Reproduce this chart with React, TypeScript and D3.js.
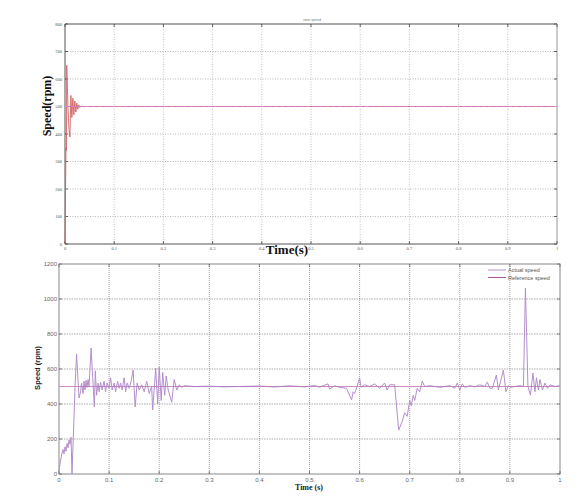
import React from "react";
import * as d3 from "d3";

// ---------- Data ----------
const topTicksX = [0, 0.1, 0.2, 0.3, 0.4, 0.5, 0.6, 0.7, 0.8, 0.9, 1];
const topTicksY = [0, 100, 200, 300, 400, 500, 600, 700, 800];
const topTime = [0, 0.002, 0.003, 0.0035, 0.006, 0.008, 0.01, 0.012, 0.014, 0.016, 0.018, 0.02, 0.022, 0.024, 0.026, 0.028, 0.03, 0.033, 0.036, 0.2, 0.5, 0.8, 1];
const topActual = [0, 350, 340, 650, 500, 420, 389, 540, 460, 530, 470, 520, 480, 512, 490, 506, 496, 502, 500, 500, 500, 500, 500];
const topRefTime = [0, 1];
const topRef = [500, 500];

const botTicksX = [0, 0.1, 0.2, 0.3, 0.4, 0.5, 0.6, 0.7, 0.8, 0.9, 1];
const botTicksY = [0, 200, 400, 600, 800, 1000, 1200];
const botTime = [
  0, 0.004, 0.006, 0.008, 0.01, 0.012, 0.014, 0.016, 0.018, 0.02, 0.022, 0.024, 0.026, 0.032, 0.035, 0.04,
  0.043, 0.045, 0.048, 0.05, 0.052, 0.054, 0.056, 0.058, 0.06, 0.064, 0.0705, 0.0725, 0.075, 0.078, 0.08, 0.083, 0.086, 0.09, 0.093,
  0.096, 0.1, 0.103, 0.106, 0.11, 0.113, 0.117, 0.12, 0.123, 0.126, 0.13, 0.133, 0.136, 0.14, 0.144, 0.148, 0.152,
  0.156, 0.16, 0.165, 0.17, 0.175, 0.18, 0.185, 0.187, 0.193, 0.197, 0.2, 0.204, 0.207, 0.211, 0.214, 0.218,
  0.225, 0.23, 0.235, 0.24, 0.245, 0.25, 0.27, 0.3, 0.33, 0.36, 0.4, 0.43, 0.46, 0.49, 0.51, 0.52, 0.537,
  0.54, 0.55, 0.56, 0.574, 0.584, 0.587, 0.59, 0.595, 0.6, 0.603, 0.61, 0.62, 0.63, 0.64, 0.65, 0.655, 0.66,
  0.67, 0.678, 0.685, 0.69, 0.695, 0.7, 0.703, 0.707, 0.71, 0.715, 0.72, 0.725, 0.73, 0.74, 0.76, 0.78,
  0.79, 0.795, 0.8, 0.805, 0.81, 0.82, 0.83, 0.84, 0.85, 0.855, 0.86, 0.865, 0.873, 0.877, 0.887, 0.892,
  0.897, 0.9, 0.91, 0.92, 0.927, 0.931, 0.936, 0.941, 0.946, 0.95, 0.953, 0.957, 0.96, 0.965, 0.97, 0.975,
  0.98, 0.99, 1
];
const botActual = [
  20, 90, 120, 140, 115, 155, 130, 175, 150, 195, 170, 210, 0, 500, 686, 434,
  470, 520, 460, 530, 480, 535, 495, 540, 500, 720, 383, 590, 450, 520, 470, 525, 480, 530, 470,
  520, 490, 550, 480, 520, 470, 530, 490, 520, 480, 550, 470, 520, 490, 530, 594, 383,
  520, 480, 510, 470, 530, 460, 500, 366, 605, 400, 610, 420, 580, 450, 560, 480,
  411, 540, 480, 510, 495, 505, 500, 502, 498, 500, 503, 497, 504, 498, 506, 496, 515,
  485, 505, 495, 490, 423, 470, 460, 500, 549, 495, 510, 500, 515, 490, 520, 480, 510,
  510, 251, 300, 350, 330, 420, 390, 450, 420, 490, 470, 530, 500, 505, 495, 505,
  490, 520, 480, 515, 495, 505, 498, 510, 500, 525, 490, 490, 566, 480, 594, 470,
  505, 495, 500, 505, 500, 1063, 500, 451, 577, 470, 550, 480, 540, 480, 520, 490,
  510, 500, 505
];
const botRefTime = [0, 1];
const botRef = [500, 500];
const legendLabels = ["Actual speed", "Reference speed"];

export default function App() {
  // ---------- Top chart ----------
  const tx = d3.scaleLinear().domain([0, 1]).range([65, 557]);
  const ty = d3.scaleLinear().domain([0, 800]).range([244, 24]);
  const tLine = d3.line<number>().x((_, i) => tx(topTime[i])).y((d) => ty(d));
  const tRefLine = d3.line<number>().x((_, i) => tx(topRefTime[i])).y((d) => ty(d));

  // ---------- Bottom chart ----------
  const bx = d3.scaleLinear().domain([0, 1]).range([59, 560]);
  const by = d3.scaleLinear().domain([0, 1200]).range([474, 264]);
  const bLine = d3.line<number>().x((_, i) => bx(botTime[i])).y((d) => by(d));
  const bRefLine = d3.line<number>().x((_, i) => bx(botRefTime[i])).y((d) => by(d));

  const actualCol = "#b48fcb";
  const refCol = "#a8559f";

  return (
    <svg width={576} height={497} style={{ position: "absolute", left: 0, top: 0, background: "#fff" }}>
      {/* ===== TOP CHART ===== */}
      <text x={312} y={21} fontSize={3.5} fill="#777" textAnchor="middle" fontFamily="Liberation Sans">rotor speed</text>
      {topTicksX.slice(1, -1).map((t) => (
        <line key={"tgx" + t} x1={tx(t)} x2={tx(t)} y1={ty(800)} y2={ty(0)} stroke="#aaa" strokeWidth={0.7} strokeDasharray="1,1.5" />
      ))}
      {topTicksY.slice(1, -1).map((v) => (
        <line key={"tgy" + v} x1={tx(0)} x2={tx(1)} y1={ty(v)} y2={ty(v)} stroke="#999" strokeWidth={0.7} strokeDasharray="1,1.5" />
      ))}
      <line x1={tx(0)} x2={tx(1)} y1={ty(800)} y2={ty(800)} stroke="#555" strokeWidth={1} />
      <line x1={tx(0)} x2={tx(1)} y1={ty(0)} y2={ty(0)} stroke="#555" strokeWidth={1} />
      <line x1={tx(0)} x2={tx(0)} y1={ty(0)} y2={ty(800)} stroke="#555" strokeWidth={1} />
      <line x1={tx(1)} x2={tx(1)} y1={ty(0)} y2={ty(800)} stroke="#ccc" strokeWidth={2} />
      {topTicksX.map((t) => (
        <g key={"ttx" + t}>
          <line x1={tx(t)} x2={tx(t)} y1={ty(0)} y2={ty(0) - 3} stroke="#444" strokeWidth={0.8} />
          <line x1={tx(t)} x2={tx(t)} y1={ty(800)} y2={ty(800) + 3} stroke="#444" strokeWidth={0.8} />
          <text x={tx(t)} y={ty(0) + 6} fontSize={4.5} fill="#555" textAnchor="middle" fontFamily="Liberation Serif">{t}</text>
        </g>
      ))}
      {topTicksY.map((v) => (
        <g key={"tty" + v}>
          <line x1={tx(0)} x2={tx(0) + 3} y1={ty(v)} y2={ty(v)} stroke="#444" strokeWidth={0.8} />
          <line x1={tx(1)} x2={tx(1) - 3} y1={ty(v)} y2={ty(v)} stroke="#444" strokeWidth={0.8} />
          <text x={tx(0) - 3} y={ty(v) + 1.5} fontSize={4.5} fill="#555" textAnchor="end" fontFamily="Liberation Serif">{v}</text>
        </g>
      ))}
      <path d={tLine(topActual) || ""} fill="none" stroke="#cf5b5b" strokeWidth={1} strokeOpacity={0.85} />
      <path d={tRefLine(topRef) || ""} fill="none" stroke="#d77fcf" strokeWidth={1.2} strokeDasharray="5,1.5" />
      <text x={287} y={254} fontSize={13} fontWeight="bold" textAnchor="middle" fontFamily="Liberation Serif" fill="#111">Time(s)</text>
      <text transform={`translate(51,106) rotate(-90)`} fontSize={12} fontWeight="bold" textAnchor="middle" fontFamily="Liberation Serif" fill="#111">Speed(rpm)</text>

      {/* ===== BOTTOM CHART ===== */}
      {botTicksX.slice(1, -1).map((t) => (
        <line key={"bgx" + t} x1={bx(t)} x2={bx(t)} y1={by(1200)} y2={by(0)} stroke="#777" strokeWidth={0.7} strokeDasharray="1,1" />
      ))}
      {botTicksY.slice(1, -1).map((v) => (
        <line key={"bgy" + v} x1={bx(0)} x2={bx(1)} y1={by(v)} y2={by(v)} stroke="#888" strokeWidth={0.7} strokeDasharray="1.5,1" />
      ))}
      <rect x={bx(0)} y={by(1200)} width={bx(1) - bx(0)} height={by(0) - by(1200)} fill="none" stroke="#888" strokeWidth={1} />
      {botTicksX.map((t) => (
        <g key={"btx" + t}>
          <line x1={bx(t)} x2={bx(t)} y1={by(0)} y2={by(0) - 3} stroke="#666" strokeWidth={0.8} />
          <line x1={bx(t)} x2={bx(t)} y1={by(1200)} y2={by(1200) + 3} stroke="#666" strokeWidth={0.8} />
          <text x={bx(t)} y={by(0) + 7.5} fontSize={6} fill="#666" textAnchor="middle" fontFamily="Liberation Sans">{t}</text>
        </g>
      ))}
      {botTicksY.map((v) => (
        <g key={"bty" + v}>
          <line x1={bx(0)} x2={bx(0) + 3} y1={by(v)} y2={by(v)} stroke="#666" strokeWidth={0.8} />
          <line x1={bx(1)} x2={bx(1) - 3} y1={by(v)} y2={by(v)} stroke="#666" strokeWidth={0.8} />
          <text x={bx(0) - 2} y={by(v) + 2} fontSize={6} fill="#666" textAnchor="end" fontFamily="Liberation Sans">{v}</text>
        </g>
      ))}
      <path d={bRefLine(botRef) || ""} fill="none" stroke="#dba6dd" strokeWidth={1.2} />
      <path d={bLine(botActual) || ""} fill="none" stroke={actualCol} strokeWidth={1} />
      <path d={bRefLine(botRef) || ""} fill="none" stroke={refCol} strokeWidth={0.5} strokeOpacity={0.6} />
      <line x1={488} x2={506} y1={270} y2={270} stroke={actualCol} strokeWidth={1} />
      <text x={508} y={272} fontSize={5.5} fill="#555" fontFamily="Liberation Sans">{legendLabels[0]}</text>
      <line x1={488} x2={506} y1={277.5} y2={277.5} stroke={refCol} strokeWidth={1} />
      <text x={508} y={279.5} fontSize={5.5} fill="#555" fontFamily="Liberation Sans">{legendLabels[1]}</text>
      <text x={309} y={490} fontSize={8} fontWeight="bold" textAnchor="middle" fontFamily="Liberation Serif" fill="#222">Time (s)</text>
      <text transform={`translate(40,368) rotate(-90)`} fontSize={7.5} fontWeight="bold" textAnchor="middle" fontFamily="Liberation Sans" fill="#222">Speed (rpm)</text>
    </svg>
  );
}
